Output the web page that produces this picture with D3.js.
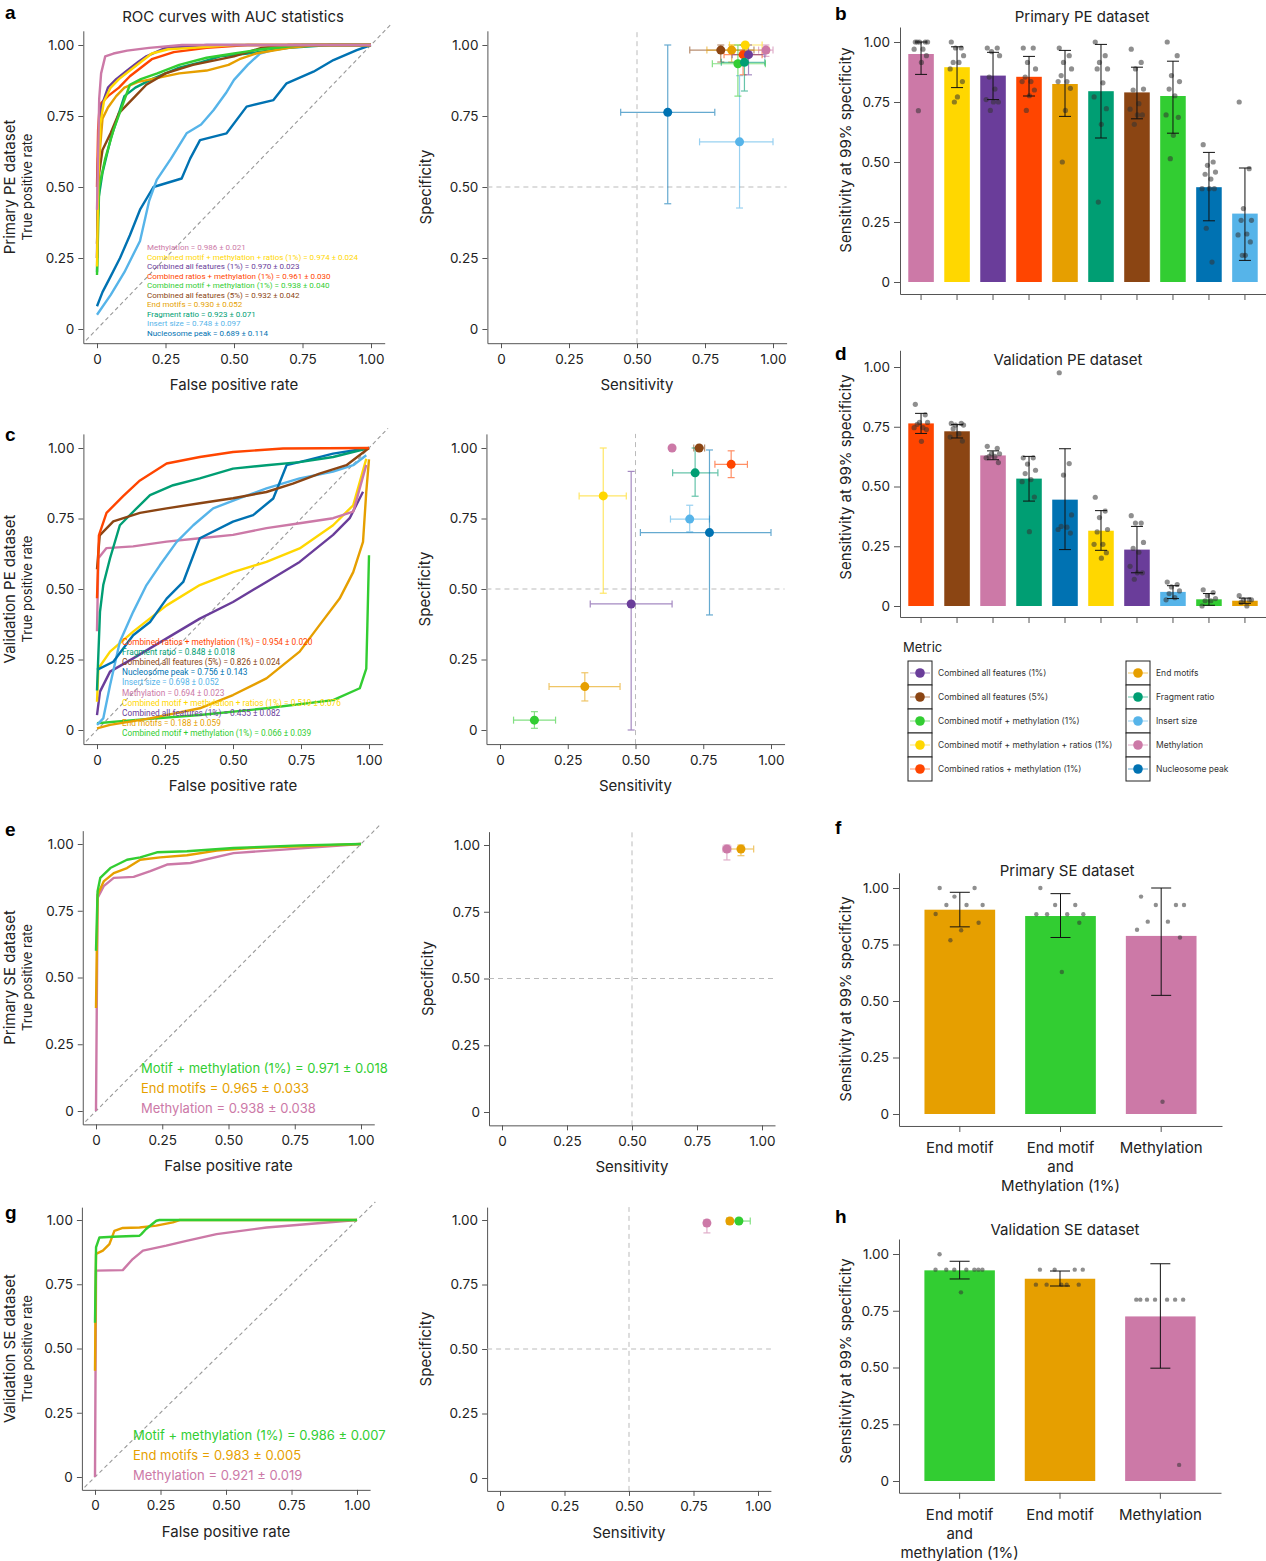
<!DOCTYPE html>
<html>
<head>
<meta charset="utf-8">
<script src="https://cdnjs.cloudflare.com/ajax/libs/d3/7.8.5/d3.min.js"></script>
<style>
  body { margin: 0; background: #fff; }
  svg text { font-family: Inter, "Noto Sans", sans-serif; fill: #222; }
  .ax path, .ax line { stroke: #555; }
  .ax text { font-size: 13.5px; fill: #222; }
  .lab { font-size: 15px; }
  .sub { font-size: 13px; }
  .letter { font-family: "Liberation Sans", Arial, sans-serif !important; font-weight: bold; font-size: 19px; }
</style>
</head>
<body>
<svg id="fig" width="1266" height="1561"></svg>
<script>
// metric colours
var metricNames = ["Combined all features (1%)", "Combined all features (5%)", "Combined motif + methylation (1%)",
  "Combined motif + methylation + ratios (1%)", "Combined ratios + methylation (1%)",
  "End motifs", "Fragment ratio", "Insert size", "Methylation", "Nucleosome peak"];
var metricColors = ["#6a3d9a", "#8b4513", "#32cd32", "#ffd700", "#ff4500",
  "#e69f00", "#009e73", "#56b4e9", "#cc79a7", "#0072b2"];
var colorOf = d3.scaleOrdinal().domain(metricNames).range(metricColors);

// ---- ROC curves, primary PE (a) ----
var rocA_keys = ["Nucleosome peak", "Insert size", "Fragment ratio", "End motifs", "Combined all features (5%)",
  "Combined motif + methylation (1%)", "Combined ratios + methylation (1%)", "Combined all features (1%)",
  "Combined motif + methylation + ratios (1%)", "Methylation"];
var rocA_curves = [
  [[0,0.08],[0.02,0.13],[0.047,0.18],[0.084,0.25],[0.12,0.33],[0.157,0.42],[0.206,0.5],[0.309,0.53],[0.34,0.6],[0.376,0.665],[0.473,0.689],[0.546,0.783],[0.644,0.806],[0.692,0.865],[0.79,0.906],[0.863,0.947],[0.948,0.982],[1,1]],
  [[0,0.05],[0.05,0.12],[0.1,0.2],[0.157,0.31],[0.19,0.45],[0.218,0.525],[0.27,0.6],[0.327,0.689],[0.38,0.72],[0.425,0.77],[0.47,0.83],[0.5,0.877],[0.55,0.93],[0.595,0.97],[0.65,0.985],[0.72,1],[1,1]],
  [[0,0.2],[0.004,0.45],[0.02,0.55],[0.05,0.67],[0.08,0.76],[0.1,0.82],[0.14,0.85],[0.2,0.88],[0.3,0.92],[0.38,0.94],[0.45,0.96],[0.55,0.97],[0.7,0.99],[0.85,1],[1,1]],
  [[0,0.25],[0.008,0.6],[0.02,0.74],[0.04,0.78],[0.07,0.82],[0.1,0.85],[0.15,0.87],[0.2,0.88],[0.3,0.9],[0.4,0.91],[0.48,0.93],[0.52,0.95],[0.58,0.97],[0.7,0.99],[0.8,1],[1,1]],
  [[0,0.3],[0.008,0.55],[0.02,0.63],[0.05,0.69],[0.08,0.76],[0.11,0.79],[0.14,0.82],[0.18,0.86],[0.25,0.9],[0.35,0.93],[0.5,0.96],[0.6,0.99],[0.7,1],[1,1]],
  [[0,0.19],[0.008,0.5],[0.03,0.6],[0.06,0.7],[0.09,0.78],[0.12,0.86],[0.16,0.88],[0.22,0.9],[0.3,0.93],[0.4,0.955],[0.5,0.97],[0.6,0.985],[0.75,1],[1,1]],
  [[0,0.5],[0.004,0.7],[0.01,0.79],[0.04,0.82],[0.08,0.85],[0.12,0.89],[0.16,0.92],[0.2,0.95],[0.28,0.975],[0.4,0.99],[0.55,1],[1,1]],
  [[0,0.25],[0.004,0.6],[0.015,0.78],[0.04,0.85],[0.07,0.88],[0.11,0.91],[0.15,0.94],[0.18,0.96],[0.25,0.99],[0.4,1],[1,1]],
  [[0,0.22],[0.004,0.5],[0.012,0.72],[0.025,0.8],[0.05,0.85],[0.08,0.88],[0.12,0.91],[0.16,0.94],[0.2,0.97],[0.26,0.985],[0.35,0.99],[0.5,1],[1,1]],
  [[0,0.42],[0.004,0.6],[0.008,0.81],[0.015,0.9],[0.03,0.96],[0.06,0.97],[0.11,0.98],[0.19,0.99],[0.31,1],[1,1]]
];
var aucA_keys = ["Methylation", "Combined motif + methylation + ratios (1%)", "Combined all features (1%)",
  "Combined ratios + methylation (1%)", "Combined motif + methylation (1%)", "Combined all features (5%)",
  "End motifs", "Fragment ratio", "Insert size", "Nucleosome peak"];
var aucA_text = ["Methylation = 0.986 ± 0.021", "Combined motif + methylation + ratios (1%) = 0.974 ± 0.024",
  "Combined all features (1%) = 0.970 ± 0.023", "Combined ratios + methylation (1%) = 0.961 ± 0.030",
  "Combined motif + methylation (1%) = 0.938 ± 0.040", "Combined all features (5%) = 0.932 ± 0.042",
  "End motifs = 0.930 ± 0.052", "Fragment ratio = 0.923 ± 0.071", "Insert size = 0.748 ± 0.097",
  "Nucleosome peak = 0.689 ± 0.114"];

// ---- ROC curves, validation PE (c) ----
var rocC_keys = ["Combined motif + methylation (1%)", "End motifs", "Combined all features (1%)",
  "Combined motif + methylation + ratios (1%)", "Methylation", "Insert size", "Nucleosome peak",
  "Fragment ratio", "Combined all features (5%)", "Combined ratios + methylation (1%)"];
var rocC_curves = [
  [[0,0.024],[0.133,0.035],[0.378,0.053],[0.623,0.077],[0.868,0.106],[0.966,0.148],[0.99,0.218],[0.994,0.372],[1,0.62]],
  [[0,0.006],[0.048,0.018],[0.195,0.041],[0.378,0.077],[0.5,0.124],[0.623,0.183],[0.745,0.278],[0.818,0.372],[0.892,0.466],[0.942,0.56],[0.978,0.667],[0.99,0.845],[1,0.96]],
  [[0,0.053],[0.011,0.136],[0.048,0.207],[0.133,0.254],[0.256,0.325],[0.378,0.395],[0.5,0.454],[0.623,0.525],[0.745,0.596],[0.868,0.692],[0.929,0.751],[0.978,0.845]],
  [[0,0.1],[0.005,0.218],[0.048,0.278],[0.133,0.349],[0.256,0.442],[0.378,0.514],[0.5,0.56],[0.623,0.596],[0.745,0.644],[0.868,0.726],[0.942,0.797],[0.99,0.962]],
  [[0,0.35],[0.005,0.609],[0.035,0.645],[0.133,0.651],[0.256,0.668],[0.378,0.68],[0.5,0.692],[0.623,0.716],[0.745,0.733],[0.868,0.751],[0.942,0.774],[0.99,0.94]],
  [[0,0.018],[0.023,0.041],[0.048,0.159],[0.084,0.313],[0.133,0.419],[0.182,0.514],[0.231,0.584],[0.293,0.667],[0.354,0.726],[0.427,0.786],[0.525,0.822],[0.623,0.857],[0.745,0.892],[0.868,0.916],[0.942,0.939],[0.99,0.974]],
  [[0,0.213],[0.06,0.242],[0.133,0.336],[0.195,0.383],[0.256,0.466],[0.317,0.525],[0.378,0.68],[0.5,0.739],[0.574,0.762],[0.648,0.821],[0.697,0.939],[0.77,0.956],[0.868,0.98],[1,1]],
  [[0,0.14],[0.011,0.419],[0.023,0.514],[0.048,0.609],[0.084,0.726],[0.133,0.774],[0.195,0.833],[0.28,0.868],[0.378,0.892],[0.5,0.927],[0.623,0.939],[0.745,0.95],[0.868,0.968],[1,1]],
  [[0,0.57],[0.01,0.69],[0.06,0.74],[0.158,0.77],[0.256,0.786],[0.378,0.804],[0.5,0.822],[0.623,0.844],[0.72,0.874],[0.818,0.909],[0.917,0.939],[1,1]],
  [[0,0.467],[0.007,0.69],[0.035,0.77],[0.097,0.83],[0.158,0.885],[0.256,0.945],[0.378,0.968],[0.5,0.986],[0.684,0.998],[1,1]]
];
var aucC_keys = ["Combined ratios + methylation (1%)", "Fragment ratio", "Combined all features (5%)",
  "Nucleosome peak", "Insert size", "Methylation", "Combined motif + methylation + ratios (1%)",
  "Combined all features (1%)", "End motifs", "Combined motif + methylation (1%)"];
var aucC_text = ["Combined ratios + methylation (1%) = 0.954 ± 0.020", "Fragment ratio = 0.848 ± 0.018",
  "Combined all features (5%) = 0.826 ± 0.024", "Nucleosome peak = 0.756 ± 0.143", "Insert size = 0.698 ± 0.052",
  "Methylation = 0.694 ± 0.023", "Combined motif + methylation + ratios (1%) = 0.519 ± 0.076",
  "Combined all features (1%) = 0.455 ± 0.082", "End motifs = 0.188 ± 0.059",
  "Combined motif + methylation (1%) = 0.066 ± 0.039"];

// ---- ROC curves, primary SE (e) and validation SE (g) ----
var rocE_keys = ["Methylation", "End motifs", "Combined motif + methylation (1%)"];
var rocE_curves = [
  [[0,0],[0.006,0.798],[0.029,0.842],[0.067,0.873],[0.142,0.877],[0.205,0.898],[0.268,0.923],[0.356,0.929],[0.519,0.966],[0.707,0.979],[1,1]],
  [[0,0.386],[0.006,0.81],[0.029,0.86],[0.067,0.891],[0.117,0.91],[0.167,0.941],[0.242,0.95],[0.343,0.958],[0.456,0.975],[0.582,0.985],[0.77,0.991],[1,1]],
  [[0,0.6],[0.006,0.823],[0.016,0.873],[0.054,0.91],[0.117,0.941],[0.167,0.95],[0.23,0.969],[0.343,0.973],[0.519,0.985],[0.77,0.995],[1,1]]
];
var aucE_text = ["Motif + methylation (1%) = 0.971 ± 0.018", "End motifs = 0.965 ± 0.033", "Methylation = 0.938 ± 0.038"];
var rocG_keys = ["Methylation", "End motifs", "Combined motif + methylation (1%)"];
var rocG_curves = [
  [[0,0],[0.004,0.803],[0.106,0.805],[0.144,0.848],[0.183,0.881],[0.272,0.9],[0.349,0.919],[0.464,0.945],[0.655,0.971],[1,1]],
  [[0,0.413],[0.004,0.868],[0.03,0.881],[0.055,0.906],[0.074,0.958],[0.106,0.969],[0.17,0.971],[0.234,0.978],[0.297,0.991],[0.323,1],[1,1]],
  [[0,0.6],[0.004,0.894],[0.017,0.932],[0.068,0.935],[0.17,0.939],[0.176,0.944],[0.195,0.965],[0.234,0.997],[0.246,1],[1,1]]
];
var aucG_text = ["Motif + methylation (1%) = 0.986 ± 0.007", "End motifs = 0.983 ± 0.005", "Methylation = 0.921 ± 0.019"];
var aucSE_keys = ["Combined motif + methylation (1%)", "End motifs", "Methylation"];

// ---- sensitivity / specificity points ----
var ssA_keys = ["Nucleosome peak", "Insert size", "Combined all features (5%)", "End motifs",
  "Combined motif + methylation + ratios (1%)", "Methylation", "Combined ratios + methylation (1%)",
  "Combined all features (1%)", "Combined motif + methylation (1%)", "Fragment ratio"];
var ssA_sens = [0.613, 0.877, 0.808, 0.848, 0.898, 0.974, 0.89, 0.91, 0.871, 0.895];
var ssA_sensLo = [0.44, 0.73, 0.694, 0.757, 0.84, 0.947, 0.82, 0.85, 0.777, 0.81];
var ssA_sensHi = [0.786, 1.0, 0.93, 0.985, 0.96, 1.0, 0.96, 0.97, 0.972, 0.97];
var ssA_spec = [0.763, 0.659, 0.982, 0.982, 1.0, 0.982, 0.966, 0.966, 0.934, 0.939];
var ssA_specLo = [0.441, 0.426, 0.94, 0.94, 0.97, 0.96, 0.895, 0.895, 0.82, 0.838];
var ssA_specHi = [1.0, 0.892, 1.0, 1.0, 1.0, 1.0, 1.0, 1.0, 1.0, 1.0];

var ssC_keys = ["Methylation", "Combined all features (5%)", "Combined ratios + methylation (1%)", "Fragment ratio",
  "Combined motif + methylation + ratios (1%)", "Insert size", "Nucleosome peak", "Combined all features (1%)",
  "End motifs", "Combined motif + methylation (1%)"];
var ssC_sens = [0.635, 0.735, 0.853, 0.72, 0.381, 0.70, 0.773, 0.484, 0.313, 0.127];
var ssC_sensLo = [0.635, 0.715, 0.793, 0.637, 0.292, 0.629, 0.518, 0.333, 0.181, 0.05];
var ssC_sensHi = [0.635, 0.755, 0.913, 0.804, 0.466, 0.773, 1.0, 0.635, 0.443, 0.205];
var ssC_spec = [1.0, 1.0, 0.942, 0.912, 0.83, 0.748, 0.70, 0.447, 0.154, 0.035];
var ssC_specLo = [1.0, 1.0, 0.895, 0.829, 0.485, 0.703, 0.408, 0.0, 0.103, 0.006];
var ssC_specHi = [1.0, 1.0, 0.99, 1.0, 1.0, 0.797, 0.993, 0.917, 0.203, 0.065];

var ssE_keys = ["Methylation", "End motifs"];
var ssE_sens = [0.865, 0.919];
var ssE_sensLo = [0.85, 0.87];
var ssE_sensHi = [0.88, 0.968];
var ssE_spec = [0.985, 0.985];
var ssE_specLo = [0.944, 0.96];
var ssE_specHi = [1.0, 1.0];

var ssG_keys = ["Methylation", "End motifs", "Combined motif + methylation (1%)"];
var ssG_sens = [0.802, 0.891, 0.926];
var ssG_sensLo = [0.79, 0.88, 0.88];
var ssG_sensHi = [0.81, 0.9, 0.97];
var ssG_spec = [0.988, 0.996, 0.996];
var ssG_specLo = [0.95, 0.99, 0.99];
var ssG_specHi = [1.0, 1.0, 1.0];

// ---- bar charts: sensitivity at 99% specificity ----
var barB_keys = ["Methylation", "Combined motif + methylation + ratios (1%)", "Combined all features (1%)",
  "Combined ratios + methylation (1%)", "End motifs", "Fragment ratio", "Combined all features (5%)",
  "Combined motif + methylation (1%)", "Nucleosome peak", "Insert size"];
var barB_mean = [0.95, 0.895, 0.86, 0.855, 0.825, 0.795, 0.79, 0.775, 0.395, 0.285];
var barB_lo = [0.865, 0.81, 0.76, 0.775, 0.69, 0.60, 0.68, 0.62, 0.255, 0.09];
var barB_hi = [1.0, 0.98, 0.957, 0.94, 0.965, 0.99, 0.895, 0.92, 0.54, 0.475];
var barB_folds = [
  [1, 1, 1, 1, 1, 0.97, 0.97, 0.943, 0.915, 0.714],
  [1, 0.975, 0.975, 0.943, 0.915, 0.915, 0.888, 0.835, 0.771, 0.75],
  [0.975, 0.975, 0.96, 0.943, 0.854, 0.804, 0.76, 0.75, 0.75, 0.715],
  [0.975, 0.975, 0.915, 0.888, 0.854, 0.835, 0.835, 0.80, 0.776, 0.715],
  [0.975, 0.943, 0.915, 0.888, 0.86, 0.835, 0.835, 0.807, 0.715, 0.5],
  [1.0, 0.943, 0.915, 0.888, 0.888, 0.83, 0.771, 0.722, 0.657, 0.333],
  [0.97, 0.915, 0.888, 0.804, 0.8, 0.743, 0.72, 0.696, 0.696, 0.657],
  [1.0, 0.943, 0.86, 0.835, 0.804, 0.776, 0.696, 0.686, 0.611, 0.514],
  [0.572, 0.5, 0.486, 0.458, 0.449, 0.429, 0.389, 0.389, 0.389, 0.224, 0.083],
  [0.75, 0.472, 0.306, 0.257, 0.257, 0.2, 0.196, 0.167, 0.111, 0.111]
];

var barD_keys = ["Combined ratios + methylation (1%)", "Combined all features (5%)", "Methylation", "Fragment ratio",
  "Nucleosome peak", "Combined motif + methylation + ratios (1%)", "Combined all features (1%)", "Insert size",
  "Combined motif + methylation (1%)", "End motifs"];
var barD_mean = [0.764, 0.731, 0.63, 0.533, 0.445, 0.315, 0.236, 0.059, 0.028, 0.022];
var barD_lo = [0.722, 0.703, 0.612, 0.439, 0.236, 0.233, 0.139, 0.031, 0.003, 0.011];
var barD_hi = [0.806, 0.759, 0.649, 0.626, 0.658, 0.399, 0.333, 0.085, 0.052, 0.033];
var barD_folds = [
  [0.844, 0.80, 0.768, 0.768, 0.76, 0.746, 0.746, 0.738, 0.689],
  [0.764, 0.764, 0.757, 0.757, 0.742, 0.721, 0.707, 0.69],
  [0.668, 0.66, 0.637, 0.637, 0.626, 0.626, 0.62, 0.6],
  [0.62, 0.62, 0.594, 0.568, 0.554, 0.529, 0.52, 0.456, 0.311],
  [0.976, 0.596, 0.548, 0.381, 0.333, 0.33, 0.32, 0.305],
  [0.455, 0.397, 0.37, 0.32, 0.31, 0.258, 0.258, 0.223, 0.2],
  [0.378, 0.347, 0.347, 0.266, 0.241, 0.225, 0.166, 0.139, 0.139, 0.112],
  [0.1, 0.09, 0.08, 0.063, 0.052, 0.035, 0.026],
  [0.068, 0.056, 0.043, 0.031, 0.022, 0.022, 0.0],
  [0.043, 0.026, 0.026, 0.026, 0.015, 0.0]
];

var barF_labels = [["End motif"], ["End motif", "and", "Methylation (1%)"], ["Methylation"]];
var barF_keys = ["End motifs", "Combined motif + methylation (1%)", "Methylation"];
var barF_mean = [0.904, 0.876, 0.788];
var barF_lo = [0.828, 0.781, 0.525];
var barF_hi = [0.981, 0.975, 1.0];
var barF_folds = [
  [1, 1, 0.962, 0.925, 0.925, 0.925, 0.885, 0.846, 0.813, 0.769],
  [1, 0.925, 0.925, 0.884, 0.884, 0.884, 0.884, 0.846, 0.628],
  [0.962, 0.925, 0.925, 0.925, 0.851, 0.851, 0.815, 0.781, 0.054]
];

var barH_labels = [["End motif", "and", "methylation (1%)"], ["End motif"], ["Methylation"]];
var barH_keys = ["Combined motif + methylation (1%)", "End motifs", "Methylation"];
var barH_mean = [0.928, 0.891, 0.725];
var barH_lo = [0.89, 0.859, 0.497];
var barH_hi = [0.968, 0.925, 0.957];
var barH_folds = [
  [0.999, 0.931, 0.931, 0.931, 0.931, 0.931, 0.931, 0.931, 0.831],
  [0.931, 0.931, 0.931, 0.931, 0.865, 0.865, 0.865, 0.865, 0.865],
  [0.799, 0.799, 0.799, 0.799, 0.799, 0.799, 0.799, 0.071]
];

var legendLeft = metricNames.slice(0, 5);
var legendRight = metricNames.slice(5);

// fixed horizontal spread pattern for fold dots (fraction of bar width)
var jitter = [-0.3, 0.22, -0.08, 0.34, -0.2, 0.1, -0.36, 0.28, 0.02, -0.14, 0.16];

var svg = d3.select("#fig");
var fmt = function(d) { return d === 0 ? "0" : d3.format(".2f")(d); };
var ticks = [0, 0.25, 0.5, 0.75, 1];

// scale where p0 is the pixel of 0 and p1 the pixel of 1, with padding on either side
function padScale(p0, p1, lo, hi) {
  var k = p1 - p0;
  return d3.scaleLinear().domain([lo, hi]).range([p0 + lo * k, p0 + hi * k]);
}

function drawAxes(x, y) {
  svg.append("g").attr("class", "ax").attr("transform", "translate(0," + y.range()[0] + ")")
    .call(d3.axisBottom(x).tickValues(ticks).tickFormat(fmt).tickSize(5).tickPadding(6).tickSizeOuter(0));
  svg.append("g").attr("class", "ax").attr("transform", "translate(" + x.range()[0] + ",0)")
    .call(d3.axisLeft(y).tickValues(ticks).tickFormat(fmt).tickSize(5).tickPadding(4).tickSizeOuter(0));
}

function rocPanel(x, y, keys, curves, aucKeys, aucText, tx, ty, tstep, tsize, name) {
  drawAxes(x, y);
  svg.append("line")
    .attr("x1", x(-0.04)).attr("y1", y(-0.04)).attr("x2", x(1.07)).attr("y2", y(1.07))
    .attr("stroke", "#999").attr("stroke-width", 1.1).attr("stroke-dasharray", "4,3");
  var line = d3.line().x(function(d) { return x(d[0]); }).y(function(d) { return y(d[1]); });
  svg.append("g").selectAll("path").data(curves).enter().append("path")
    .attr("d", line).attr("fill", "none")
    .attr("stroke", function(d, i) { return colorOf(keys[i]); })
    .attr("stroke-width", 2.4).attr("stroke-linejoin", "round");
  svg.append("g").selectAll("text").data(aucText).enter().append("text")
    .attr("x", tx).attr("y", function(d, i) { return ty + i * tstep; })
    .style("font-size", tsize + "px").style("font-family", tsize < 10 ? "Roboto, sans-serif" : null)
    .style("fill", function(d, i) { return colorOf(aucKeys[i]); })
    .text(function(d) { return d; });
  var bottom = y.range()[0];
  svg.append("text").attr("class", "lab").attr("x", x(0.5)).attr("y", bottom + 47)
    .attr("text-anchor", "middle").text("False positive rate");
  svg.append("text").attr("class", "lab").attr("text-anchor", "middle")
    .attr("transform", "translate(15," + y(0.5) + ") rotate(-90)").text(name);
  svg.append("text").attr("class", "sub").attr("text-anchor", "middle")
    .attr("transform", "translate(32," + y(0.5) + ") rotate(-90)").text("True positive rate");
}

function ssPanel(x, y, keys, sens, sLo, sHi, spec, pLo, pHi) {
  drawAxes(x, y);
  var g = svg.append("g");
  g.append("line").attr("x1", x(0.5)).attr("x2", x(0.5)).attr("y1", y.range()[0]).attr("y2", y.range()[1])
    .attr("stroke", "#bbb").attr("stroke-dasharray", "5,4");
  g.append("line").attr("x1", x.range()[0]).attr("x2", x.range()[1]).attr("y1", y(0.5)).attr("y2", y(0.5))
    .attr("stroke", "#bbb").attr("stroke-dasharray", "5,4");
  var cap = 3.5;
  keys.forEach(function(k, i) {
    var c = colorOf(k);
    var e = g.append("g").attr("stroke", c).attr("stroke-width", 1.2).attr("opacity", 0.6);
    if (sHi[i] > sLo[i]) {
      e.append("line").attr("x1", x(sLo[i])).attr("x2", x(sHi[i])).attr("y1", y(spec[i])).attr("y2", y(spec[i]));
      e.append("line").attr("x1", x(sLo[i])).attr("x2", x(sLo[i])).attr("y1", y(spec[i]) - cap).attr("y2", y(spec[i]) + cap);
      e.append("line").attr("x1", x(sHi[i])).attr("x2", x(sHi[i])).attr("y1", y(spec[i]) - cap).attr("y2", y(spec[i]) + cap);
    }
    if (pHi[i] > pLo[i]) {
      e.append("line").attr("x1", x(sens[i])).attr("x2", x(sens[i])).attr("y1", y(pLo[i])).attr("y2", y(pHi[i]));
      e.append("line").attr("x1", x(sens[i]) - cap).attr("x2", x(sens[i]) + cap).attr("y1", y(pLo[i])).attr("y2", y(pLo[i]));
      e.append("line").attr("x1", x(sens[i]) - cap).attr("x2", x(sens[i]) + cap).attr("y1", y(pHi[i])).attr("y2", y(pHi[i]));
    }
  });
  g.selectAll("circle").data(keys).enter().append("circle")
    .attr("cx", function(d, i) { return x(sens[i]); })
    .attr("cy", function(d, i) { return y(spec[i]); })
    .attr("r", 4.5).attr("fill", function(d) { return colorOf(d); });
  svg.append("text").attr("class", "lab").attr("x", x(0.5)).attr("y", y.range()[0] + 47)
    .attr("text-anchor", "middle").text("Sensitivity");
  svg.append("text").attr("class", "lab").attr("text-anchor", "middle")
    .attr("transform", "translate(" + (x.range()[0] - 56) + "," + y(0.5) + ") rotate(-90)").text("Specificity");
}

function barPanel(opts) {
  var y = opts.y, x = opts.x;
  var bottom = y.range()[0];
  svg.append("g").attr("class", "ax").attr("transform", "translate(" + x.range()[0] + ",0)")
    .call(d3.axisLeft(y).tickValues(ticks).tickFormat(fmt).tickSize(6).tickPadding(4).tickSizeOuter(0));
  svg.append("g").attr("class", "ax").attr("transform", "translate(0," + bottom + ")")
    .call(d3.axisBottom(x).tickSize(6).tickSizeOuter(0).tickFormat(""));
  var g = svg.append("g");
  var bw = x.bandwidth();
  g.selectAll("rect").data(opts.keys).enter().append("rect")
    .attr("x", function(d, i) { return x(i); })
    .attr("y", function(d, i) { return y(opts.mean[i]); })
    .attr("width", bw)
    .attr("height", function(d, i) { return y(0) - y(opts.mean[i]); })
    .attr("fill", function(d) { return colorOf(d); });
  opts.folds.forEach(function(vals, i) {
    var cx = x(i) + bw / 2;
    g.selectAll(null).data(vals).enter().append("circle")
      .attr("cx", function(v, j) { return cx + jitter[j % jitter.length] * bw * opts.spread; })
      .attr("cy", function(v) { return y(v); })
      .attr("r", opts.dot).attr("fill", "#333").attr("opacity", 0.55);
  });
  opts.keys.forEach(function(k, i) {
    var cx = x(i) + bw / 2, w = opts.cap;
    var e = g.append("g").attr("stroke", "#111").attr("stroke-width", 1);
    e.append("line").attr("x1", cx).attr("x2", cx).attr("y1", y(opts.lo[i])).attr("y2", y(opts.hi[i]));
    e.append("line").attr("x1", cx - w).attr("x2", cx + w).attr("y1", y(opts.lo[i])).attr("y2", y(opts.lo[i]));
    e.append("line").attr("x1", cx - w).attr("x2", cx + w).attr("y1", y(opts.hi[i])).attr("y2", y(opts.hi[i]));
  });
  if (opts.labels) {
    opts.labels.forEach(function(lines, i) {
      var cx = x(i) + bw / 2;
      lines.forEach(function(t, j) {
        svg.append("text").attr("class", "lab").attr("x", cx).attr("y", bottom + 27 + j * 19)
          .attr("text-anchor", "middle").text(t);
      });
    });
  }
  svg.append("text").attr("class", "lab").attr("x", opts.titleX).attr("y", opts.titleY)
    .attr("text-anchor", "middle").text(opts.title);
  svg.append("text").attr("class", "lab").attr("text-anchor", "middle")
    .attr("transform", "translate(851," + opts.ylabY + ") rotate(-90)").text("Sensitivity at 99% specificity");
}

// ---------- panel a ----------
var xA = padScale(97, 371, -0.05, 1.05), yA = padScale(329, 45, -0.05, 1.05);
rocPanel(xA, yA, rocA_keys, rocA_curves, aucA_keys, aucA_text, 147, 250, 9.55, 8, "Primary PE dataset");
svg.append("text").attr("class", "lab").attr("x", 233).attr("y", 22).attr("text-anchor", "middle")
  .text("ROC curves with AUC statistics");
ssPanel(padScale(501, 773, -0.05, 1.05), yA, ssA_keys, ssA_sens, ssA_sensLo, ssA_sensHi, ssA_spec, ssA_specLo, ssA_specHi);

// ---------- panel c ----------
var xC = padScale(97, 369, -0.05, 1.05), yC = padScale(730, 448, -0.05, 1.05);
rocPanel(xC, yC, rocC_keys, rocC_curves, aucC_keys, aucC_text, 122, 645, 10.1, 8.3, "Validation PE dataset");
ssPanel(padScale(500, 771, -0.05, 1.05), yC, ssC_keys, ssC_sens, ssC_sensLo, ssC_sensHi, ssC_spec, ssC_specLo, ssC_specHi);

// ---------- panel e ----------
var xE = padScale(96, 361, -0.05, 1.05), yE = padScale(1111, 844, -0.05, 1.05);
rocPanel(xE, yE, rocE_keys, rocE_curves, aucSE_keys, aucE_text, 141, 1073, 20, 13, "Primary SE dataset");
ssPanel(padScale(502, 762, -0.05, 1.05), padScale(1112, 845, -0.05, 1.05), ssE_keys, ssE_sens, ssE_sensLo, ssE_sensHi, ssE_spec, ssE_specLo, ssE_specHi);

// ---------- panel g ----------
var xG = padScale(95, 357, -0.05, 1.05), yG = padScale(1477, 1220, -0.05, 1.05);
rocPanel(xG, yG, rocG_keys, rocG_curves, aucSE_keys, aucG_text, 133, 1440, 20, 13, "Validation SE dataset");
ssPanel(padScale(500, 758, -0.05, 1.05), padScale(1478, 1220, -0.05, 1.05), ssG_keys, ssG_sens, ssG_sensLo, ssG_sensHi, ssG_spec, ssG_specLo, ssG_specHi);

// ---------- panel b ----------
var band10 = d3.scaleBand().domain(d3.range(10)).range([900, 1266]).paddingInner(0.29).paddingOuter(0.23);
barPanel({ x: band10, y: padScale(282, 42, -0.05, 1.0625), keys: barB_keys, mean: barB_mean, lo: barB_lo, hi: barB_hi,
  folds: barB_folds, dot: 2.6, spread: 0.75, cap: 6, title: "Primary PE dataset", titleX: 1082, titleY: 22, ylabY: 150 });

// ---------- panel d ----------
barPanel({ x: band10, y: padScale(606, 367, -0.046, 1.07), keys: barD_keys, mean: barD_mean, lo: barD_lo, hi: barD_hi,
  folds: barD_folds, dot: 2.6, spread: 0.75, cap: 6, title: "Validation PE dataset", titleX: 1068, titleY: 365, ylabY: 477 });

// legend of panel d
svg.append("text").attr("x", 903).attr("y", 652).style("font-size", "13px").text("Metric");
function legendColumn(names, bx, tx) {
  var g = svg.append("g");
  names.forEach(function(n, i) {
    var top = 661 + i * 24, cy = top + 12;
    g.append("rect").attr("x", bx).attr("y", top).attr("width", 24).attr("height", 24)
      .attr("fill", "#fff").attr("stroke", "#222").attr("stroke-width", 1);
    g.append("line").attr("x1", bx + 2).attr("x2", bx + 22).attr("y1", cy).attr("y2", cy)
      .attr("stroke", colorOf(n)).attr("stroke-width", 1).attr("opacity", 0.6);
    g.append("circle").attr("cx", bx + 12).attr("cy", cy).attr("r", 4.8).attr("fill", colorOf(n));
    g.append("text").attr("x", tx).attr("y", cy + 3).style("font-size", "8.5px").style("fill", "#333").text(n);
  });
}
legendColumn(legendLeft, 908, 938);
legendColumn(legendRight, 1126, 1156);

// ---------- panel f ----------
var band3f = d3.scaleBand().domain(d3.range(3)).range([899, 1222]).paddingInner(0.298).paddingOuter(0.253);
barPanel({ x: band3f, y: padScale(1114, 888, -0.053, 1.067), keys: barF_keys, mean: barF_mean, lo: barF_lo, hi: barF_hi,
  folds: barF_folds, dot: 2.2, spread: 0.95, cap: 10, labels: barF_labels,
  title: "Primary SE dataset", titleX: 1067, titleY: 876, ylabY: 999 });

// ---------- panel h ----------
var band3h = d3.scaleBand().domain(d3.range(3)).range([899, 1221]).paddingInner(0.298).paddingOuter(0.253);
barPanel({ x: band3h, y: padScale(1481, 1254, -0.052, 1.066), keys: barH_keys, mean: barH_mean, lo: barH_lo, hi: barH_hi,
  folds: barH_folds, dot: 2.2, spread: 0.95, cap: 10, labels: barH_labels,
  title: "Validation SE dataset", titleX: 1065, titleY: 1235, ylabY: 1361 });

// panel letters
var letters = [["a", 5, 19], ["b", 835, 20], ["c", 5, 441], ["d", 835, 360], ["e", 5, 836], ["f", 835, 834], ["g", 5, 1219], ["h", 835, 1223]];
svg.append("g").selectAll("text").data(letters).enter().append("text")
  .attr("class", "letter").attr("x", function(d) { return d[1]; }).attr("y", function(d) { return d[2]; })
  .style("fill", "#000").text(function(d) { return d[0]; });
</script>
</body>
</html>
